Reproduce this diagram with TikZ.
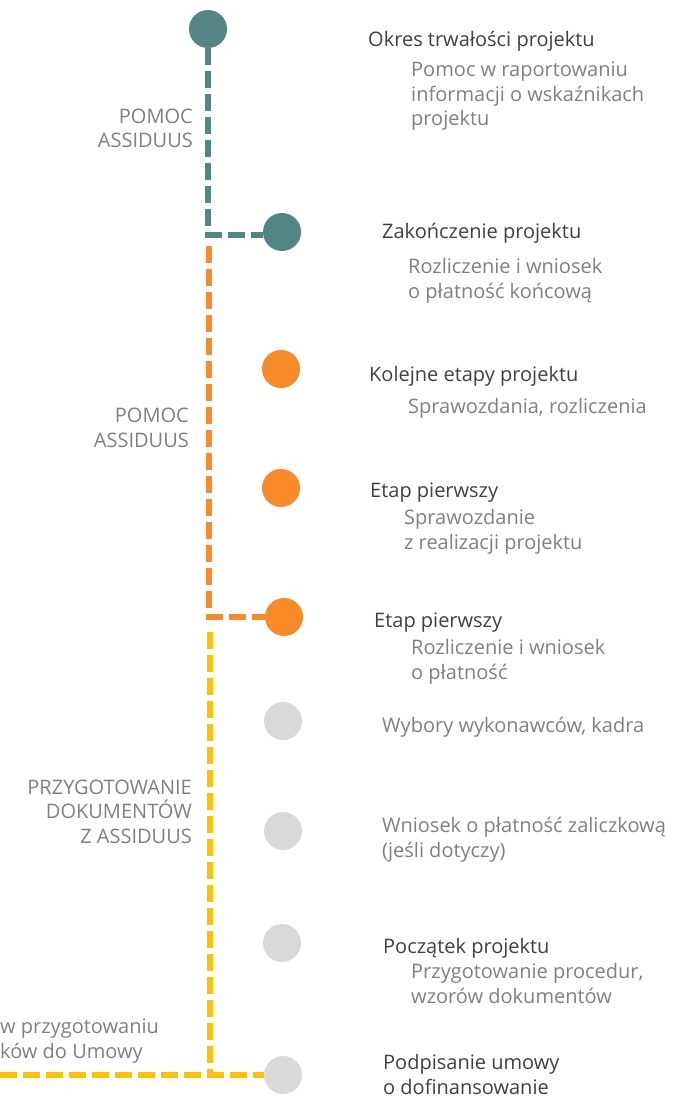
\documentclass[tikz,border=0pt]{standalone}
\usepackage{fontspec}
\setmainfont{Open Sans}
\usepackage{tikz}

\definecolor{tealdot}{HTML}{538584}
\definecolor{orangedot}{HTML}{F98A28}
\definecolor{yellowline}{HTML}{FFC000}
\definecolor{greydot}{HTML}{D9D9D9}
\definecolor{darktext}{HTML}{404040}
\definecolor{greytext}{HTML}{808080}

\tikzset{
    dot/.style={circle, minimum size=38pt, inner sep=0pt},
    link/.style={line width=5.5pt, dash pattern=on 17pt off 6pt},
    title/.style={anchor=base west, inner sep=0pt, align=left, text=darktext,
        font=\fontsize{20}{24.5}\selectfont},
    sub/.style={title, text=greytext},
    side/.style={anchor=base east, inner sep=0pt, align=right, text=greytext,
        font=\fontsize{20}{24.5}\selectfont}
}

\begin{document}
\begin{tikzpicture}[x=1pt, y=-1pt]

    \useasboundingbox (0,0) rectangle (677,1099);

    \node[dot, fill=tealdot] (okresDot) at (208,29) {};
    \node[dot, fill=tealdot] (koniecDot) at (282,232) {};
    \node[dot, fill=orangedot] (kolejneDot) at (281,369) {};
    \node[dot, fill=orangedot] (etapDot) at (281,488) {};
    \node[dot, fill=orangedot] (rozlDot) at (284,617) {};
    \node[dot, fill=greydot] (wyboryDot) at (283,721) {};
    \node[dot, fill=greydot] (zaliczkaDot) at (283,831) {};
    \node[dot, fill=greydot] (poczatekDot) at (282,943) {};
    \node[dot, fill=greydot] (umowaDot) at (283,1075) {};

    \coordinate (tealCorner) at (208,235);
    \coordinate (orangeTop) at (209,246);
    \coordinate (orangeCorner) at (209,617);
    \coordinate (yellowTop) at (210,632);
    \coordinate (yellowCorner) at (210,1075);
    \coordinate (yellowEnd) at (0,1075);

    \draw[link, tealdot] (okresDot) -- (tealCorner) -- (tealCorner -| koniecDot.west);
    \draw[link, orangedot] (orangeTop) -- (orangeCorner) -- (rozlDot);
    \draw[link, yellowline] (yellowTop) -- (yellowCorner);
    \draw[link, yellowline] (yellowEnd) -- (umowaDot);

    % multi-line nodes sit on the baseline of their last line
    \node[title] (okres) at (368,47) {Okres trwałości projektu};
    \node[sub] (okresSub) at (411,126) {Pomoc w raportowaniu\\informacji o wskaźnikach\\projektu};
    \node[title] (koniec) at (382,239) {Zakończenie projektu};
    \node[sub] (koniecSub) at (408,298) {Rozliczenie i wniosek\\o płatność końcową};
    \node[title] (kolejne) at (369,381) {Kolejne etapy projektu};
    \node[sub] (kolejneSub) at (408,413) {Sprawozdania, rozliczenia};
    \node[title] (etap) at (370,497) {Etap pierwszy};
    \node[sub] (etapSub) at (404,549) {Sprawozdanie\\z realizacji projektu};
    \node[title] (rozl) at (374,627) {Etap pierwszy};
    \node[sub] (rozlSub) at (411,679) {Rozliczenie i wniosek\\o płatność};
    \node[sub] (wybory) at (382,732) {Wybory wykonawców, kadra};
    \node[sub] (zaliczka) at (382,857) {Wniosek o płatność zaliczkową\\(jeśli dotyczy)};
    \node[title] (poczatek) at (383,953) {Początek projektu};
    \node[sub] (poczatekSub) at (411,1003) {Przygotowanie procedur,\\wzorów dokumentów};
    \node[title] (umowa) at (383,1094) {Podpisanie umowy\\o dofinansowanie};

    \node[side] (pomocA) at (193,148) {POMOC\\ASSIDUUS};
    \node[side] (pomocB) at (189,447) {POMOC\\ASSIDUUS};
    \node[side] (przyg) at (192,843) {PRZYGOTOWANIE\\DOKUMENTÓW\\Z ASSIDUUS};
    \node[sub] (umowaDoc) at (0,1058) {w przygotowaniu\\ków do Umowy};

\end{tikzpicture}
\end{document}
